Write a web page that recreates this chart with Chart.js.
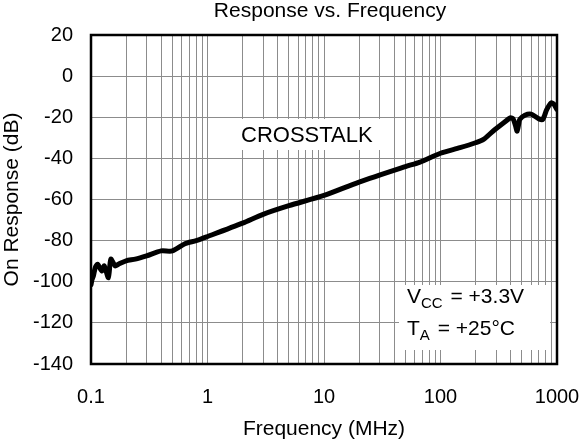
<!DOCTYPE html>
<html>
<head>
<meta charset="utf-8">
<script src="https://cdn.jsdelivr.net/npm/chart.js@4/dist/chart.umd.min.js"></script>
<style>
  html, body { margin: 0; padding: 0; background: #fff; }
  #wrap { width: 582px; height: 441px; }
</style>
</head>
<body>
<div id="wrap"><canvas id="chart" width="582" height="441"></canvas></div>
<script>
/* ---- data ---- */
const freqMHz = [
  0.1, 0.102, 0.105, 0.109, 0.114, 0.124, 0.13, 0.141, 0.148, 0.161, 0.172,
  0.2, 0.24, 0.3, 0.4, 0.5, 0.64, 0.8, 1, 2, 3, 5, 10, 20, 50, 66.7,
  100, 147, 200, 234, 282, 349, 398, 420, 440, 455, 470, 480, 530, 600,
  700, 755, 816, 890, 940, 1000
];
const crosstalkDb = [
  -101.5, -99, -97, -93, -91.5, -94.8, -92.3, -98, -89, -92.3, -91.5,
  -89.8, -89, -87.4, -85, -85, -81.5, -80, -78, -71.5, -67.2, -63, -58, -51.5, -44, -41.8,
  -37.5, -34.8, -32.4, -30.8, -26.8, -22.7, -20.3, -20.8, -24, -26.8, -23, -21, -19, -18.5,
  -20.8, -21, -16.3, -13, -13.6, -16.3
];
const decadeTicks = [0.1, 1, 10, 100, 1000];
const yTicks = [-140, -120, -100, -80, -60, -40, -20, 0, 20];

const FONT = '"Liberation Sans", Arial, sans-serif';

/* gridlines at 1..9 of every decade */
const logGrid = [];
decadeTicks.forEach((d, i) => {
  if (i === decadeTicks.length - 1) { logGrid.push(d); return; }
  for (let m = 1; m <= 9; m++) logGrid.push(+(d * m).toPrecision(3));
});

/* title, white label boxes, frame and annotation texts */
const annotations = {
  id: 'annotations',
  beforeDatasetsDraw(chart) {
    const { ctx, chartArea: a } = chart;
    ctx.save();
    ctx.fillStyle = '#fff';
    ctx.fillRect(a.left + 141, a.top + 84, 154, 31);
    ctx.fillRect(a.left + 308, a.top + 250, 151, 65);
    ctx.restore();
  },
  afterDraw(chart) {
    const { ctx, chartArea: a } = chart;
    ctx.save();
    ctx.strokeStyle = '#000';
    ctx.lineWidth = 2.5;
    ctx.strokeRect(a.left, a.top, a.right - a.left, a.bottom - a.top);

    ctx.fillStyle = '#000';
    ctx.textAlign = 'center';
    ctx.textBaseline = 'middle';
    ctx.font = '21px ' + FONT;
    ctx.fillText('Response vs. Frequency', (a.left + a.right) / 2 + 6, 11);

    ctx.textBaseline = 'alphabetic';
    ctx.textAlign = 'left';
    ctx.font = '22px ' + FONT;
    ctx.fillText('CROSSTALK', a.left + 150, a.top + 107);

    const x0 = a.left + 316;
    const writeSub = (main, sub, rest, y) => {
      ctx.font = '21px ' + FONT;
      ctx.fillText(main, x0, y);
      let x = x0 + ctx.measureText(main).width;
      ctx.font = '15px ' + FONT;
      ctx.fillText(sub, x, y + 5);
      x += ctx.measureText(sub).width;
      ctx.font = '21px ' + FONT;
      ctx.fillText(rest, x + 2, y);
    };
    writeSub('V', 'CC', ' = +3.3V', a.top + 268);
    writeSub('T', 'A', ' = +25°C', a.top + 300);
    ctx.restore();
  }
};

new Chart(document.getElementById('chart'), {
  type: 'line',
  data: {
    labels: freqMHz,
    datasets: [{
      data: freqMHz.map((f, i) => ({ x: f, y: crosstalkDb[i] })),
      borderColor: '#000',
      borderWidth: 5,
      borderJoinStyle: 'round',
      borderCapStyle: 'round',
      pointRadius: 0,
      tension: 0.25,
      fill: false,
    }],
  },
  options: {
    responsive: false,
    animation: false,
    layout: { padding: { left: 0, right: 25, top: 35, bottom: 0 } },
    plugins: {
      legend: { display: false },
      tooltip: { enabled: false },
      title: { display: false },
    },
    scales: {
      x: {
        type: 'logarithmic',
        min: 0.1,
        max: 1000,
        afterBuildTicks: s => { s.ticks = logGrid.map(v => ({ value: v })); },
        afterFit: s => { s.height = 77; s.paddingLeft = 0; s.paddingRight = 0; },
        ticks: {
          color: '#000',
          padding: 21,
          autoSkip: false,
          maxRotation: 0,
          font: { family: FONT, size: 20 },
          callback: v => decadeTicks.includes(v) ? String(v) : '',
        },
        grid: { color: '#8c8c8c', lineWidth: 1, drawTicks: false },
        border: { display: false },
        title: {
          display: true,
          text: 'Frequency (MHz)',
          color: '#000',
          font: { family: FONT, size: 21, lineHeight: 1.1 },
          padding: { top: 0, bottom: 0 },
        },
      },
      y: {
        min: -140,
        max: 20,
        afterBuildTicks: s => { s.ticks = yTicks.map(v => ({ value: v })); },
        afterFit: s => { s.width = 91; },
        ticks: {
          color: '#000',
          padding: 18,
          font: { family: FONT, size: 20 },
        },
        grid: { color: '#8c8c8c', lineWidth: 1, drawTicks: false },
        border: { display: false },
        title: {
          display: true,
          text: 'On Response (dB)',
          color: '#000',
          font: { family: FONT, size: 21, lineHeight: 1.15 },
          padding: { top: 0, bottom: 0 },
        },
      },
    },
  },
  plugins: [annotations],
});
</script>
</body>
</html>
